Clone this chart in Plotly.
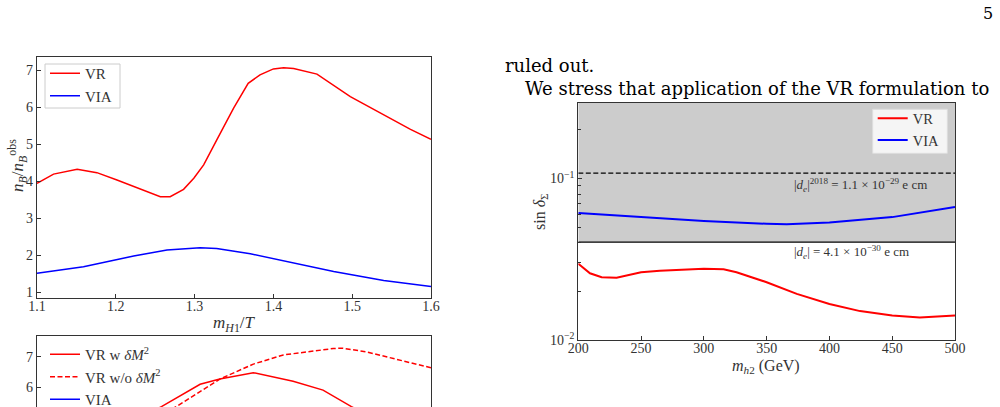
import plotly.graph_objects as go

# ---------------- data ----------------
# top-left panel: n_B / n_B^obs vs m_H1/T
top_x_vr = [1.100, 1.121, 1.151, 1.176, 1.2015, 1.231, 1.2565, 1.269, 1.286, 1.299, 1.3115,
            1.328, 1.3495, 1.368, 1.383, 1.400, 1.413, 1.4257, 1.4553, 1.4976, 1.540, 1.574, 1.600]
top_y_vr = [3.94, 4.19, 4.32, 4.23, 4.03, 3.78, 3.58, 3.58, 3.78, 4.08, 4.44,
            5.11, 5.97, 6.64, 6.87, 7.03, 7.06, 7.04, 6.89, 6.28, 5.79, 5.40, 5.13]
top_x_via = [1.100, 1.159, 1.2227, 1.265, 1.307, 1.328, 1.3707, 1.413, 1.4765, 1.540, 1.600]
top_y_via = [1.515, 1.69, 1.98, 2.14, 2.20, 2.18, 2.04, 1.85, 1.56, 1.32, 1.155]
top_xticks = [1.1, 1.2, 1.3, 1.4, 1.5, 1.6]
top_yticks = [1, 2, 3, 4, 5, 6, 7]

# bottom-left panel (partially visible)
bot_x_w = [1.100, 1.200, 1.258, 1.307, 1.332, 1.3745, 1.425, 1.463, 1.499, 1.550, 1.600]
bot_y_w = [3.90, 4.60, 5.37, 6.10, 6.27, 6.48, 6.20, 5.91, 5.37, 4.60, 4.00]
bot_x_wo = [1.100, 1.200, 1.277, 1.332, 1.3745, 1.4126, 1.476, 1.488, 1.518, 1.600]
bot_y_wo = [3.90, 4.40, 5.37, 6.27, 6.76, 7.06, 7.27, 7.28, 7.16, 6.64]
bot_x_via = [1.10, 1.20, 1.30, 1.40, 1.50, 1.60]
bot_y_via = [1.50, 1.85, 2.20, 2.00, 1.55, 1.15]
bot_yticks = [6, 7]

# right panel: sin delta_Sigma vs m_h2
r_x_vr = [200, 209.3, 218.6, 230.5, 250, 265, 300, 315.7, 326, 350, 374, 400, 424.4, 450, 472, 500]
r_y_vr = [0.0297, 0.0259, 0.0245, 0.0243, 0.0263, 0.0269, 0.0276, 0.0274, 0.0263, 0.0228,
          0.0193, 0.0167, 0.0151, 0.0142, 0.0138, 0.0142]
r_x_via = [200, 250, 300, 350, 366, 400, 450, 500]
r_y_via = [0.0611, 0.0577, 0.0545, 0.0525, 0.0522, 0.0535, 0.0577, 0.0667]
de_2018_limit = 0.108
de_new_limit = 0.0404
r_xticks = [200, 250, 300, 350, 400, 450, 500]
r_yticks = [0.01, 0.1]
r_yticktext = ["10<sup>−2</sup>", "10<sup>−1</sup>"]
r_yminor = [0.02, 0.03, 0.04, 0.05, 0.06, 0.07, 0.08, 0.09, 0.2, 0.3]

# ---------------- figure ----------------
W, H = 1000, 407
SERIF = "Liberation Serif"
BODY = "DejaVu Serif"
TXT = "#333333"
RED, BLUE = "#ff0000", "#0000ff"

fig = go.Figure()

# top-left
fig.add_trace(go.Scatter(x=top_x_vr, y=top_y_vr, mode="lines", name="VR",
                         line=dict(color=RED, width=1.5), xaxis="x", yaxis="y", legend="legend"))
fig.add_trace(go.Scatter(x=top_x_via, y=top_y_via, mode="lines", name="VIA",
                         line=dict(color=BLUE, width=1.5), xaxis="x", yaxis="y", legend="legend"))

# bottom-left
fig.add_trace(go.Scatter(x=bot_x_w, y=bot_y_w, mode="lines", name="VR w <i>δM</i><sup>2</sup>",
                         line=dict(color=RED, width=1.5), xaxis="x2", yaxis="y2", legend="legend2"))
fig.add_trace(go.Scatter(x=bot_x_wo, y=bot_y_wo, mode="lines", name="VR w/o <i>δM</i><sup>2</sup>",
                         line=dict(color=RED, width=1.5, dash="5px,2.5px"), xaxis="x2", yaxis="y2",
                         legend="legend2"))
fig.add_trace(go.Scatter(x=bot_x_via, y=bot_y_via, mode="lines", name="VIA",
                         line=dict(color=BLUE, width=1.5), xaxis="x2", yaxis="y2", legend="legend2"))

# right: excluded (grey) region
fig.add_trace(go.Scatter(x=[200, 500, 500, 200, 200],
                         y=[de_new_limit, de_new_limit, 0.5, 0.5, de_new_limit],
                         mode="lines", fill="toself", fillcolor="#cccccc",
                         line=dict(width=0, color="#cccccc"), showlegend=False,
                         hoverinfo="skip", xaxis="x3", yaxis="y3"))
fig.add_trace(go.Scatter(x=[200, 500], y=[de_2018_limit, de_2018_limit], mode="lines",
                         line=dict(color="black", width=1.3, dash="5px,2.5px"), showlegend=False,
                         xaxis="x3", yaxis="y3"))
fig.add_trace(go.Scatter(x=[200, 500], y=[de_new_limit, de_new_limit], mode="lines",
                         line=dict(color="black", width=1.3), showlegend=False,
                         xaxis="x3", yaxis="y3"))
fig.add_trace(go.Scatter(x=r_x_vr, y=r_y_vr, mode="lines", name="VR",
                         line=dict(color=RED, width=2), xaxis="x3", yaxis="y3", legend="legend3"))
fig.add_trace(go.Scatter(x=r_x_via, y=r_y_via, mode="lines", name="VIA",
                         line=dict(color=BLUE, width=2), xaxis="x3", yaxis="y3", legend="legend3"))


def px_x(p):
    return p / W


def px_y(p):
    return 1 - p / H


base_axis = dict(showline=True, linecolor="#333333", linewidth=1.2, ticks="inside", ticklen=4,
                 tickwidth=1, tickcolor="#333333", showgrid=False, zeroline=False,
                 automargin=False, title=dict(text=""),
                 tickfont=dict(family=SERIF, size=14, color=TXT))

clear_legend = dict(xanchor="left", yanchor="top", bgcolor="rgba(255,255,255,0)", borderwidth=0,
                    itemwidth=30, tracegroupgap=0)

fig.update_layout(
    template="none",
    width=W, height=H,
    margin=dict(l=0, r=0, t=0, b=0, pad=0, autoexpand=False),
    paper_bgcolor="white", plot_bgcolor="white",
    xaxis=dict(base_axis, domain=[px_x(37), px_x(431)], range=[1.1, 1.6], anchor="y", mirror=True,
               tickvals=top_xticks, ticktext=[f"{v:.1f}" for v in top_xticks],
               ticklabelstandoff=-5),
    yaxis=dict(base_axis, domain=[px_y(297.7), px_y(56.7)], range=[0.854, 7.36], anchor="x",
               mirror=True, tickvals=top_yticks),
    xaxis2=dict(base_axis, domain=[px_x(37), px_x(431)], range=[1.1, 1.6], anchor="y2", side="top",
                ticks="", showticklabels=False),
    yaxis2=dict(base_axis, domain=[0, px_y(336)], range=[5.356, 7.68], anchor="x2", mirror=True,
                tickvals=bot_yticks),
    xaxis3=dict(base_axis, domain=[px_x(578.3), px_x(955)], range=[200, 500], anchor="y3",
                mirror=True, tickvals=r_xticks, ticklabelstandoff=-5),
    yaxis3=dict(base_axis, domain=[px_y(340), px_y(102.7)], type="log", range=[-2, -0.53],
                anchor="x3", mirror=True, tickvals=r_yticks, ticktext=r_yticktext,
                minor=dict(tickmode="array", tickvals=r_yminor, ticks="inside", ticklen=2.5,
                           tickcolor="#333333", showgrid=False)),
    legend=dict(clear_legend, x=px_x(45), y=px_y(57), font=dict(family=SERIF, size=15, color=TXT)),
    legend2=dict(clear_legend, x=px_x(45), y=px_y(338), font=dict(family=SERIF, size=15, color=TXT)),
    legend3=dict(clear_legend, x=px_x(872.7), y=px_y(102.3),
                 font=dict(family=SERIF, size=14.5, color=TXT)),
    showlegend=True,
)

# legend frames (drawn as boxes beneath the legend entries)
fig.add_shape(type="rect", xref="paper", yref="paper", x0=px_x(45), x1=px_x(120),
              y0=px_y(108), y1=px_y(64), fillcolor="white", line=dict(color="#cccccc", width=1),
              layer="above")
fig.add_shape(type="rect", xref="paper", yref="paper", x0=px_x(872.7), x1=px_x(947.3),
              y0=px_y(153.3), y1=px_y(109.3), fillcolor="rgba(255,255,255,0.8)",
              line=dict(color="#dedede", width=1), layer="above")

ann = []
# page text
ann.append(dict(text="5", x=px_x(988), y=px_y(13.5), xanchor="center", yanchor="middle",
                font=dict(family=BODY, size=16, color="black")))
ann.append(dict(text="ruled out.", x=px_x(503.3), y=px_y(65.7), xanchor="left", yanchor="middle",
                font=dict(family=BODY, size=18, color="black")))
ann.append(dict(text="We stress that application of the VR formulation to", x=px_x(522.7),
                y=px_y(88), xanchor="left", yanchor="middle",
                font=dict(family=BODY, size=18, color="black")))
# axis titles
ann.append(dict(text="<i>n<sub>B</sub></i>/<i>n</i><sub><i>B</i></sub><sup>obs</sup>", x=px_x(18),
                y=px_y(166), textangle=-90, xanchor="center", yanchor="middle",
                font=dict(family=SERIF, size=17, color=TXT)))
ann.append(dict(text="<i>m<sub>H</sub></i><sub>1</sub>/<i>T</i>", x=px_x(234), y=px_y(324),
                xanchor="center", yanchor="middle", font=dict(family=SERIF, size=17, color=TXT)))
ann.append(dict(text="sin <i>δ</i><sub>Σ</sub>", x=px_x(540), y=px_y(212), textangle=-90,
                xanchor="center", yanchor="middle", font=dict(family=SERIF, size=16, color=TXT)))
ann.append(dict(text="<i>m<sub>h</sub></i><sub>2</sub> (GeV)", x=px_x(766), y=px_y(366),
                xanchor="center", yanchor="middle", font=dict(family=SERIF, size=16, color=TXT)))
# in-plot labels
ann.append(dict(text="|<i>d<sub>e</sub></i>|<sup>2018</sup> = 1.1 × 10<sup>−29</sup> e cm",
                x=px_x(791.7), y=px_y(185), xanchor="left", yanchor="middle",
                font=dict(family=SERIF, size=13, color=TXT)))
ann.append(dict(text="|<i>d<sub>e</sub></i>| = 4.1 × 10<sup>−30</sup> e cm",
                x=px_x(791.7), y=px_y(252), xanchor="left", yanchor="middle",
                font=dict(family=SERIF, size=13, color=TXT)))
for a in ann:
    a.update(xref="paper", yref="paper", showarrow=False)
fig.update_layout(annotations=ann)

fig.write_html("out.html")
